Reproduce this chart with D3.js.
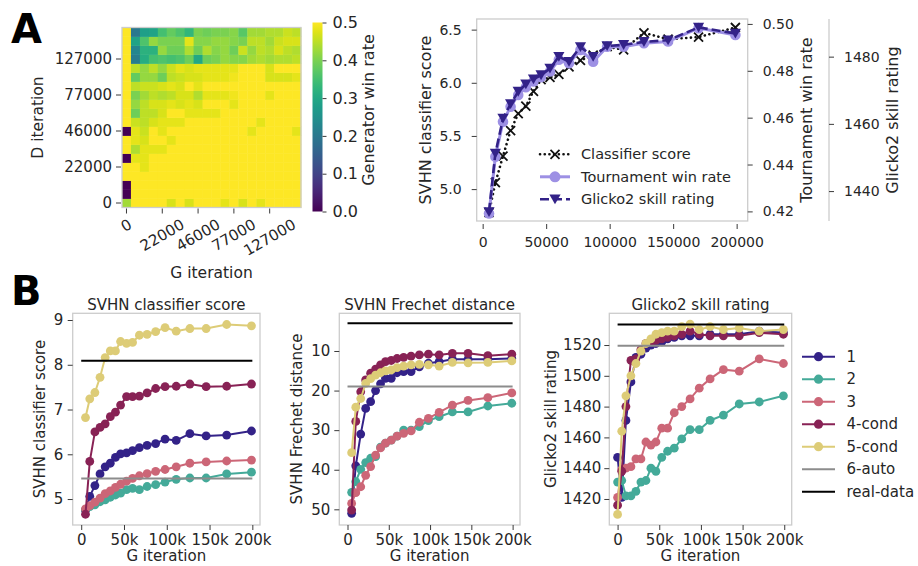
<!DOCTYPE html>
<html><head><meta charset="utf-8">
<script src="https://cdn.jsdelivr.net/npm/d3@7"></script>
<style>body{margin:0;background:#fff} svg{display:block} text{font-family:"DejaVu Sans",sans-serif}</style>
</head><body>
<script>
// ---------- DATA ----------
const iterations = [0,5000,10000,16000,22000,28000,34000,40000,46000,53000,60000,68000,77000,87000,98000,111000,127000,146000,170000,199000];
const heatTicks = [0,22000,46000,77000,127000];
const cbTicks = [0,0.1,0.2,0.3,0.4,0.5];
// generator win rate, rows = D iteration (bottom to top), columns = G iteration
const winRate = [
 [0.43,0.5,0.5,0.5,0.5,0.47,0.5,0.47,0.5,0.5,0.5,0.48,0.5,0.47,0.5,0.48,0.5,0.5,0.5,0.5],
 [0.0,0.5,0.5,0.5,0.5,0.5,0.5,0.5,0.5,0.5,0.5,0.5,0.5,0.5,0.5,0.5,0.5,0.5,0.5,0.5],
 [0.0,0.5,0.5,0.5,0.5,0.5,0.5,0.5,0.5,0.5,0.5,0.5,0.5,0.5,0.5,0.5,0.5,0.5,0.5,0.5],
 [0.5,0.5,0.5,0.5,0.5,0.5,0.5,0.5,0.5,0.5,0.5,0.5,0.5,0.5,0.5,0.5,0.5,0.5,0.5,0.5],
 [0.5,0.5,0.48,0.5,0.5,0.5,0.5,0.5,0.5,0.5,0.5,0.5,0.5,0.5,0.5,0.5,0.5,0.5,0.5,0.5],
 [0.0,0.48,0.48,0.5,0.5,0.5,0.5,0.5,0.5,0.5,0.5,0.5,0.5,0.5,0.5,0.5,0.5,0.5,0.5,0.5],
 [0.5,0.44,0.48,0.48,0.48,0.5,0.5,0.5,0.5,0.5,0.5,0.5,0.5,0.5,0.5,0.5,0.5,0.5,0.5,0.5],
 [0.5,0.48,0.47,0.5,0.5,0.48,0.5,0.5,0.5,0.5,0.5,0.5,0.5,0.5,0.5,0.5,0.5,0.5,0.5,0.5],
 [0.0,0.48,0.46,0.5,0.48,0.5,0.5,0.5,0.5,0.5,0.5,0.5,0.5,0.5,0.48,0.5,0.5,0.5,0.5,0.48],
 [0.5,0.46,0.45,0.47,0.48,0.48,0.48,0.5,0.5,0.5,0.5,0.5,0.5,0.5,0.5,0.48,0.5,0.5,0.5,0.5],
 [0.5,0.39,0.45,0.45,0.47,0.5,0.5,0.48,0.48,0.48,0.48,0.5,0.5,0.5,0.5,0.5,0.5,0.5,0.5,0.5],
 [0.5,0.42,0.45,0.47,0.47,0.48,0.47,0.48,0.47,0.5,0.5,0.5,0.48,0.5,0.5,0.5,0.5,0.5,0.5,0.5],
 [0.5,0.40,0.43,0.45,0.44,0.45,0.47,0.47,0.44,0.48,0.48,0.48,0.49,0.5,0.5,0.5,0.48,0.5,0.5,0.5],
 [0.5,0.45,0.46,0.46,0.47,0.48,0.47,0.5,0.48,0.5,0.5,0.5,0.5,0.5,0.5,0.5,0.5,0.5,0.5,0.5],
 [0.5,0.38,0.42,0.42,0.39,0.45,0.46,0.47,0.47,0.48,0.48,0.48,0.49,0.5,0.5,0.5,0.47,0.47,0.47,0.48],
 [0.5,0.45,0.42,0.45,0.42,0.46,0.48,0.47,0.48,0.48,0.48,0.48,0.48,0.5,0.5,0.5,0.47,0.5,0.5,0.5],
 [0.5,0.21,0.31,0.35,0.36,0.35,0.36,0.39,0.30,0.39,0.40,0.42,0.41,0.41,0.43,0.44,0.43,0.44,0.44,0.45],
 [0.5,0.23,0.32,0.32,0.42,0.39,0.39,0.44,0.39,0.44,0.41,0.42,0.39,0.46,0.42,0.45,0.44,0.47,0.45,0.44],
 [0.5,0.29,0.36,0.42,0.40,0.40,0.40,0.48,0.41,0.41,0.42,0.42,0.41,0.40,0.45,0.45,0.43,0.46,0.47,0.47],
 [0.5,0.20,0.28,0.29,0.35,0.38,0.36,0.33,0.40,0.39,0.40,0.40,0.41,0.37,0.43,0.43,0.44,0.44,0.46,0.45]
];

// Panel A right: one run
const runIters = [5000,10000,16000,22000,28000,34000,40000,46000,53000,60000,68000,77000,87000,98000,111000,127000,146000,170000,199000];
const aClassifier = [4.78,5.06,5.31,5.55,5.71,5.78,5.92,6.03,6.05,6.08,6.15,6.21,6.26,6.34,6.31,6.47,6.41,6.43,6.52];
const aTournament = [0.4191,0.4433,0.4583,0.4647,0.4697,0.4730,0.4754,0.4773,0.4797,0.4847,0.4832,0.4889,0.4839,0.4903,0.4903,0.4918,0.4925,0.4982,0.4953];
const aGlicko = [1433.8,1451.2,1461.6,1465.9,1469.6,1471.8,1473.3,1474.5,1476.5,1480.0,1478.5,1482.9,1480.0,1483.2,1483.5,1484.4,1484.9,1488.7,1486.9];
const aLegend = ["Classifier score","Tournament win rate","Glicko2 skill rating"];
const aScoreTicks = [5.0,5.5,6.0,6.5];
const aWinTicks = [0.42,0.44,0.46,0.48,0.50];
const aGlickoTicks = [1440,1460,1480];
const aXTicks = [0,50000,100000,150000,200000];

// Panel B
const seriesNames = ["1","2","3","4-cond","5-cond"];
const seriesColors = ["#332288","#44AA99","#CC6677","#882255","#DDCC77"];
const refNames = ["6-auto","real-data"];
const refColors = ["#8c8c8c","#000000"];
const clf1 = [4.75,5.06,5.30,5.56,5.72,5.80,5.93,6.01,6.03,6.08,6.15,6.20,6.24,6.34,6.31,6.46,6.41,6.43,6.52];
const clf2 = [4.76,4.83,4.87,4.94,4.98,5.04,5.09,5.13,5.21,5.24,5.21,5.28,5.32,5.38,5.44,5.47,5.47,5.56,5.60];
const clf3 = [4.78,4.85,4.93,5.02,5.12,5.18,5.26,5.33,5.40,5.46,5.52,5.57,5.62,5.66,5.72,5.80,5.83,5.85,5.87];
const clf4 = [4.66,5.84,6.50,6.60,6.68,6.84,6.94,7.10,7.29,7.29,7.30,7.37,7.47,7.51,7.52,7.57,7.51,7.52,7.57];
const clf5 = [6.82,7.24,7.38,7.72,8.16,8.31,8.31,8.52,8.48,8.50,8.66,8.68,8.74,8.83,8.75,8.81,8.81,8.90,8.87];
const clfRefs = [5.46, 8.09];
const fd1 = [51.0,39.0,31.0,24.5,22.8,20.0,18.3,16.9,16.9,15.5,15.2,15.2,14.0,13.1,12.7,12.1,12.1,12.1,11.9];
const fd2 = [45.7,43.0,39.9,38.2,37.1,36.7,34.3,33.3,32.5,31.5,30.0,30.0,29.1,27.6,26.6,25.4,25.4,23.9,23.2];
const fd3 = [48.5,45.8,44.3,41.4,39.2,36.3,34.5,33.3,32.5,31.5,30.8,30.2,28.0,27.0,25.5,23.7,22.5,21.8,20.6];
const fd4 = [50.2,27.8,20.3,17.3,15.6,14.6,13.5,12.7,12.4,11.9,11.6,11.3,11.0,10.8,11.0,10.6,10.6,11.2,10.8];
const fd5 = [35.7,24.2,22.0,18.2,17.0,16.1,15.5,15.0,14.8,14.2,13.8,13.5,13.4,13.5,13.8,12.9,13.0,12.9,12.5];
const fdRefs = [19.0, 3.0];
const gl1 = [1447,1421,1471,1496,1512,1514,1518,1520,1521,1522,1524,1525,1526,1526,1526,1527,1527,1527,1529,1528];
const gl2 = [1431,1432,1422,1422,1425,1431,1432,1440,1438,1447,1451,1453,1459,1465,1465,1471,1474.5,1481.7,1483,1487];
const gl3 = [1421,1439,1440,1441,1446,1446,1457,1455,1457,1466,1466,1476,1480,1485,1492,1498,1504,1503,1511,1508];
const gl4 = [1416,1438,1480,1510,1511,1517,1521,1522,1523,1524,1525,1526,1527,1529,1527,1526,1526,1526,1528,1527];
const gl5 = [1410,1464,1487,1500,1508,1516,1521,1524,1527,1528,1529,1529,1532,1533.5,1530,1532,1530,1531,1529,1530];
const glRefs = [1519.6, 1533.4];
const bXTicks = [0,50000,100000,150000,200000];
const clfTicks = [5,6,7,8,9];
const fdTicks = [10,20,30,40,50];
const glTicks = [1420,1440,1460,1480,1500,1520];

// ---------- STYLE ----------
const TXT = "#262626", SPINE = "#cccccc", TICKC = "#3a3a3a";
const svg = d3.select("body").append("svg").attr("width",918).attr("height",566);
svg.append("rect").attr("width",918).attr("height",566).attr("fill","#fff");

function styleAxis(g, fs){
  g.select(".domain").remove();
  g.selectAll(".tick line").attr("stroke",TICKC).attr("stroke-width",1);
  g.selectAll(".tick text").attr("fill",TXT).attr("font-size",fs).attr("font-family","DejaVu Sans");
  return g;
}
function frame(x0,x1,y0,y1){
  svg.append("rect").attr("x",x0).attr("y",y0).attr("width",x1-x0).attr("height",y1-y0)
    .attr("fill","none").attr("stroke",SPINE).attr("stroke-width",1.3);
}
function label(x,y,txt,fs,rot,anchor){
  const t = svg.append("text").attr("fill",TXT).attr("font-size",fs).attr("text-anchor",anchor||"middle").text(txt);
  if(rot){ t.attr("transform",`translate(${x},${y}) rotate(${rot})`).attr("dominant-baseline","central"); }
  else t.attr("x",x).attr("y",y);
  return t;
}
const kfmt = d => d===0 ? "0" : (d/1000)+"k";
const intFmt = d3.format("d");

// ---------- PANEL LETTERS ----------
svg.append("text").attr("x",11).attr("y",43).attr("font-family","Liberation Sans").attr("font-weight","bold").attr("font-size",40).attr("fill","#000").text("A");
svg.append("text").attr("x",11).attr("y",305).attr("font-family","Liberation Sans").attr("font-weight","bold").attr("font-size",40).attr("fill","#000").text("B");

// ---------- HEATMAP ----------
const hx = d3.scaleBand().domain(iterations).range([122,301]);
const hy = d3.scaleBand().domain(iterations).range([207.5,27.5]);
const hc = d3.scaleSequential(d3.interpolateViridis).domain([0,0.5]);
const cells = [];
winRate.forEach((row,di)=>row.forEach((v,gi)=>cells.push({d:iterations[di],g:iterations[gi],v})));
svg.append("g").selectAll("rect").data(cells).join("rect")
  .attr("x",c=>hx(c.g)).attr("y",c=>hy(c.d))
  .attr("width",hx.bandwidth()+0.4).attr("height",hy.bandwidth()+0.4)
  .attr("fill",c=>hc(c.v));
frame(122,301,27.5,207.5);
styleAxis(svg.append("g").attr("transform","translate(121,0)")
  .call(d3.axisLeft(hy).tickValues(heatTicks).tickFormat(intFmt).tickSize(5).tickPadding(4)),15);
const hxAxis = styleAxis(svg.append("g").attr("transform","translate(0,208.5)")
  .call(d3.axisBottom(hx).tickValues(heatTicks).tickFormat(intFmt).tickSize(5)),15);
hxAxis.selectAll(".tick text").each(function(){
  const t = d3.select(this);
  const w = this.getComputedTextLength();
  const hb = 0.5*w + 0.866*11;
  t.attr("y",null).attr("dy",null).attr("dominant-baseline","central")
   .attr("transform",`translate(0,${10 + hb/2}) rotate(-30)`);
});
label(211.5,278,"G iteration",15.5);
label(38,117.5,"D iteration",15.5,-90);

// colorbar
const cbY = d3.scaleLinear().domain([0,0.5]).range([211.5,22.5]);
const grad = svg.append("defs").append("linearGradient").attr("id","vir").attr("x1",0).attr("y1",1).attr("x2",0).attr("y2",0);
d3.range(0,1.0001,0.05).forEach(t=>grad.append("stop").attr("offset",t).attr("stop-color",d3.interpolateViridis(t)));
svg.append("rect").attr("x",312.5).attr("y",22.5).attr("width",10).attr("height",189).attr("fill","url(#vir)");
styleAxis(svg.append("g").attr("transform","translate(322.5,0)")
  .call(d3.axisRight(cbY).tickValues(cbTicks).tickFormat(d3.format(".1f")).tickSize(4).tickPadding(6)),16);
label(368,110,"Generator win rate",16,-90);

// ---------- PANEL A LINES ----------
const xA = d3.scaleLinear().domain([-4700,208700]).range([476.7,747.7]);
const yScore = d3.scaleLinear().domain([4.70,6.60]).range([221,19]);
const yWin = d3.scaleLinear().domain([0.4159,0.5021]).range([221,19]);
const yGl = d3.scaleLinear().domain([1431.1,1491.2]).range([221,19]);
frame(476.7,747.7,19,221);
styleAxis(svg.append("g").attr("transform","translate(476.7,0)")
  .call(d3.axisLeft(yScore).tickValues(aScoreTicks).tickFormat(d3.format(".1f")).tickSize(5).tickPadding(10)),14);
styleAxis(svg.append("g").attr("transform","translate(747.7,0)")
  .call(d3.axisRight(yWin).tickValues(aWinTicks).tickFormat(d3.format(".2f")).tickSize(5).tickPadding(10)),14);
svg.append("line").attr("x1",829).attr("x2",829).attr("y1",19).attr("y2",221).attr("stroke",SPINE).attr("stroke-width",1.3);
styleAxis(svg.append("g").attr("transform","translate(829,0)")
  .call(d3.axisRight(yGl).tickValues(aGlickoTicks).tickFormat(intFmt).tickSize(5).tickPadding(10)),14);
styleAxis(svg.append("g").attr("transform","translate(0,224)")
  .call(d3.axisBottom(xA).tickValues(aXTicks).tickFormat(intFmt).tickSize(5).tickPadding(8)),14);
label(425,120,"SVHN classifier score",16,-90);
label(806,120,"Tournament win rate",16,-90);
label(892,120,"Glicko2 skill rating",16,-90);

const purpleLight = "#9d90e4", purpleDark = "#332288";
function xMark(g,x,y,s,col){
  g.append("path").attr("d",`M${x-s},${y-s}L${x+s},${y+s}M${x-s},${y+s}L${x+s},${y-s}`).attr("stroke",col).attr("stroke-width",1.8).attr("fill","none");
}
function triMark(g,x,y,s,col){
  g.append("path").attr("d",`M${x-s},${y-s*0.85}L${x+s},${y-s*0.85}L${x},${y+s*0.9}Z`).attr("fill",col);
}
const DOT = {w:2.6, dash:"0.1,4.6"};
const gA = svg.append("g");
const lnA = (ys,vals)=>d3.line().x((d,i)=>xA(runIters[i])).y(d=>ys(d))(vals);
gA.append("path").attr("d",lnA(yScore,aClassifier)).attr("fill","none").attr("stroke","#111").attr("stroke-width",DOT.w).attr("stroke-dasharray",DOT.dash).attr("stroke-linecap","round");
aClassifier.forEach((v,i)=>xMark(gA,xA(runIters[i]),yScore(v),4.5,"#111"));
gA.append("path").attr("d",lnA(yWin,aTournament)).attr("fill","none").attr("stroke",purpleLight).attr("stroke-width",3);
gA.selectAll("circle").data(aTournament).join("circle").attr("cx",(d,i)=>xA(runIters[i])).attr("cy",d=>yWin(d)).attr("r",5.3).attr("fill",purpleLight);
gA.append("path").attr("d",lnA(yGl,aGlicko)).attr("fill","none").attr("stroke",purpleDark).attr("stroke-width",2.6).attr("stroke-dasharray","9,4");
aGlicko.forEach((v,i)=>triMark(gA,xA(runIters[i]),yGl(v),5.6,purpleDark));
// legend A
const legA = svg.append("g");
const ly = [154.3,176.8,199.3];
legA.append("line").attr("x1",540).attr("x2",572).attr("y1",ly[0]).attr("y2",ly[0]).attr("stroke","#111").attr("stroke-width",DOT.w).attr("stroke-dasharray",DOT.dash).attr("stroke-linecap","round");
xMark(legA,555,ly[0],4.5,"#111");
legA.append("line").attr("x1",540).attr("x2",570).attr("y1",ly[1]).attr("y2",ly[1]).attr("stroke",purpleLight).attr("stroke-width",3);
legA.append("circle").attr("cx",555).attr("cy",ly[1]).attr("r",5.5).attr("fill",purpleLight);
legA.append("line").attr("x1",540).attr("x2",570).attr("y1",ly[2]).attr("y2",ly[2]).attr("stroke",purpleDark).attr("stroke-width",2.6).attr("stroke-dasharray","9,4");
triMark(legA,555,ly[2],5.6,purpleDark);
aLegend.forEach((t,i)=>legA.append("text").attr("x",581).attr("y",ly[i]).attr("dominant-baseline","central").attr("font-size",14.5).attr("fill",TXT).text(t));

// ---------- PANEL B ----------
const B = [
  {x0:72.7,x1:260,title:"SVHN classifier score",ylab:"SVHN classifier score",ylx:40,dom:[4.42,9.15],ticks:clfTicks,data:[clf1,clf2,clf3,clf4,clf5],refs:clfRefs,iters:runIters,pad:4.5},
  {x0:339.3,x1:520,title:"SVHN Frechet distance",ylab:"SVHN Frechet distance",ylx:297,dom:[53.96,0.48],ticks:fdTicks,data:[fd1,fd2,fd3,fd4,fd5],refs:fdRefs,iters:runIters,pad:4},
  {x0:609.3,x1:791.7,title:"Glicko2 skill rating",ylab:"Glicko2 skill rating",ylx:551,dom:[1403.1,1540.6],ticks:glTicks,data:[gl1,gl2,gl3,gl4,gl5],refs:glRefs,iters:iterations,pad:3}
];
const bY0 = 313.3, bY1 = 525;
B.forEach(p=>{
  const x = d3.scaleLinear().domain([-9950,208950]).range([p.x0,p.x1]);
  const y = d3.scaleLinear().domain(p.dom).range([bY1,bY0]);
  frame(p.x0,p.x1,bY0,bY1);
  styleAxis(svg.append("g").attr("transform",`translate(${p.x0},0)`)
    .call(d3.axisLeft(y).tickValues(p.ticks).tickFormat(intFmt).tickSize(5).tickPadding(p.pad)),15);
  styleAxis(svg.append("g").attr("transform",`translate(0,${bY1})`)
    .call(d3.axisBottom(x).tickValues(bXTicks).tickFormat(kfmt).tickSize(5).tickPadding(4)),15);
  label((p.x0+p.x1)/2,309.5,p.title,15);
  label((p.x0+p.x1)/2,561,"G iteration",15);
  label(p.ylx,419,p.ylab,15,-90);
  const g = svg.append("g");
  p.data.forEach((vals,si)=>{
    const line = d3.line().x((d,i)=>x(p.iters[i])).y(d=>y(d));
    g.append("path").attr("d",line(vals)).attr("fill","none").attr("stroke",seriesColors[si]).attr("stroke-width",2);
    g.append("g").selectAll("circle").data(vals).join("circle")
      .attr("cx",(d,i)=>x(p.iters[i])).attr("cy",d=>y(d)).attr("r",4.4).attr("fill",seriesColors[si]);
  });
  p.refs.forEach((v,ri)=>{
    g.append("line").attr("x1",x(0)).attr("x2",x(200000)).attr("y1",y(v)).attr("y2",y(v))
      .attr("stroke",refColors[ri]).attr("stroke-width",2);
  });
});
// legend B
const legB = svg.append("g");
const allNames = seriesNames.concat(refNames), allColors = seriesColors.concat(refColors);
allNames.forEach((n,i)=>{
  const yy = 356.7 + 22.5*i;
  legB.append("line").attr("x1",802).attr("x2",835).attr("y1",yy).attr("y2",yy).attr("stroke",allColors[i]).attr("stroke-width",2);
  if(i<5) legB.append("circle").attr("cx",818.5).attr("cy",yy).attr("r",4.6).attr("fill",allColors[i]);
  legB.append("text").attr("x",846.5).attr("y",yy).attr("dominant-baseline","central").attr("font-size",15).attr("fill",TXT).text(n);
});
</script>
</body></html>
